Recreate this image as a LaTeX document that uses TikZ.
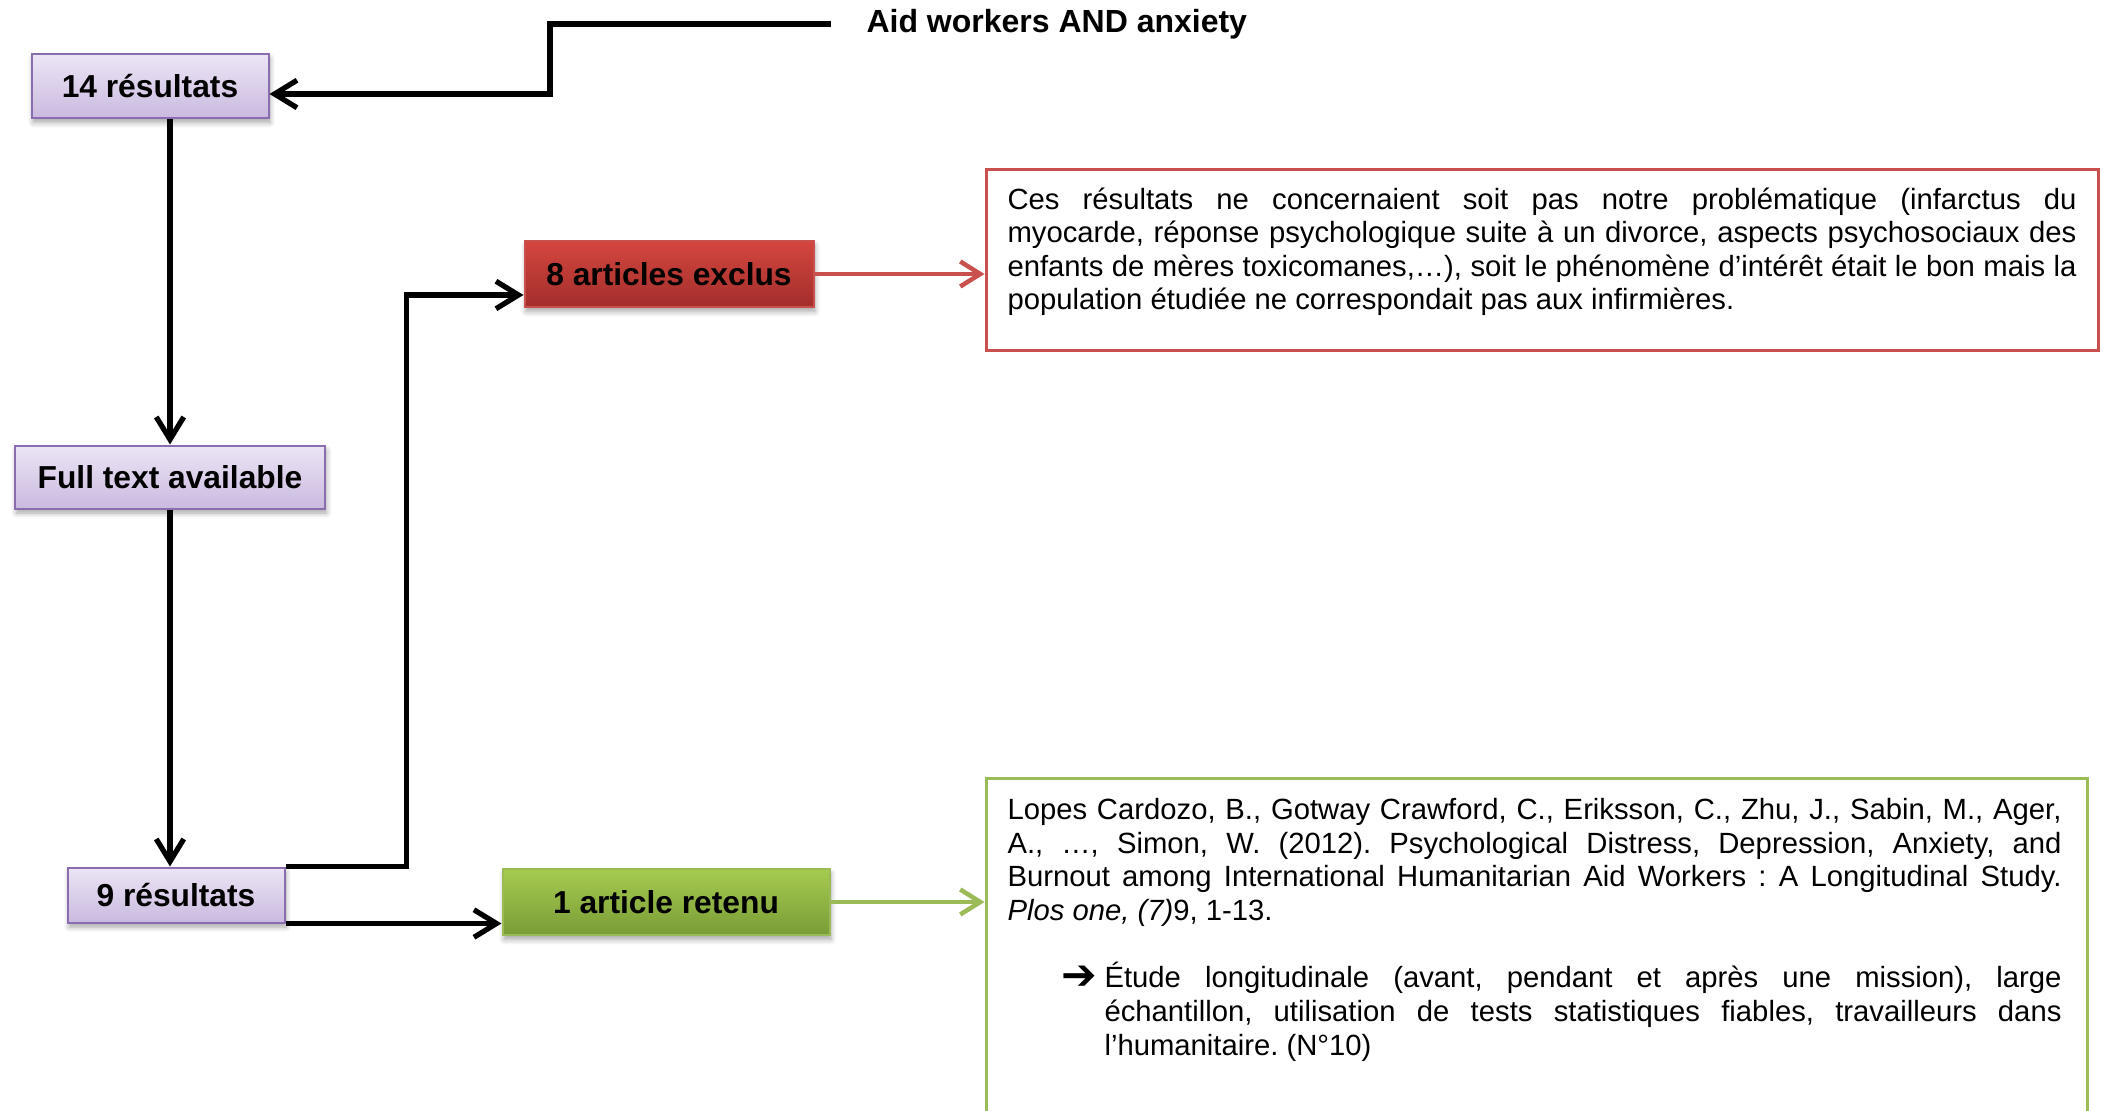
\documentclass[tikz,border=0pt]{standalone}
\usepackage{fontspec}
\setmainfont{Liberation Sans}
\newfontfamily\symfont{DejaVu Sans}
\usetikzlibrary{arrows.meta,calc,shadows.blur}

\definecolor{lavtop}{HTML}{ECE5F5}
\definecolor{lavbot}{HTML}{CABADF}
\definecolor{lavedge}{HTML}{8A6DAE}
\definecolor{redtop}{HTML}{D4463F}
\definecolor{redbot}{HTML}{A22E2B}
\definecolor{redline}{HTML}{C9504C}
\definecolor{greentop}{HTML}{A6CB50}
\definecolor{greenbot}{HTML}{7A9C37}
\definecolor{greenline}{HTML}{9BBB59}

\begin{document}
\begin{tikzpicture}[x=0.4pt,y=-0.4pt,
  lbl/.style={font=\fontsize{12.7}{15}\selectfont\bfseries, inner sep=0pt,
    line width=0.8pt,
    blur shadow={shadow xshift=0.6pt, shadow yshift=-1.8pt,
      shadow blur steps=6, shadow opacity=35}},
  purplebox/.style={lbl, draw=lavedge, top color=lavtop, bottom color=lavbot},
  redlabel/.style={lbl, draw=redline, top color=redtop, bottom color=redbot},
  greenlabel/.style={lbl, draw=greenline, top color=greentop, bottom color=greenbot},
  notebox/.style={draw, line width=1.2pt, inner sep=0pt},
  bodytext/.style={font={\fontsize{11.7}{13.45}\selectfont\frenchspacing}, inner sep=0pt,
    align=justify, anchor=north west},
  flow/.style={line width=2.1pt, -{Straight Barb[length=9pt,width=11pt]}},
  redflow/.style={draw=redline, line width=1.8pt, -{Straight Barb[length=8pt,width=10pt]}},
  greenflow/.style={draw=greenline, line width=1.8pt, -{Straight Barb[length=8pt,width=10pt]}}
]
\useasboundingbox (0,0) rectangle (2103,1111);

% search query
\node[font=\fontsize{12.8}{15}\selectfont\bfseries, inner sep=0pt, anchor=west]
  (query) at (866,24) {Aid workers AND anxiety};

% flow boxes
\node[purplebox, minimum width=237*0.4pt, minimum height=64*0.4pt] (r14) at (150,86) {14 résultats};
\node[purplebox, minimum width=310*0.4pt, minimum height=63*0.4pt] (full) at (170,477) {Full text available};
\node[purplebox, minimum width=217*0.4pt, minimum height=55*0.4pt] (r9) at (176,895) {9 résultats};
\node[redlabel, minimum width=289*0.4pt, minimum height=66*0.4pt] (excl) at (669,274) {8 articles exclus};
\node[greenlabel, minimum width=327*0.4pt, minimum height=66*0.4pt] (ret) at (666,902) {1 article retenu};

% note boxes
\node[notebox, draw=redline, minimum width=1112*0.4pt, minimum height=181*0.4pt] (redbox) at (1542,260.5) {};
\node[notebox, draw=greenline, minimum width=1101*0.4pt, minimum height=360*0.4pt] (greenbox) at (1536.5,958) {};

\node[bodytext, text width=427.6pt] (redtext) at (1007,187)
{Ces résultats ne concernaient soit pas notre problématique (infarctus du\linebreak
myocarde, réponse psychologique suite à un divorce, aspects psychosociaux des\linebreak
enfants de mères toxicomanes,…), soit le phénomène d’intérêt était le bon mais la\linebreak
population étudiée ne correspondait pas aux infirmières.};

\node[bodytext, text width=421.6pt] (greentext) at (1007,798)
{Lopes Cardozo, B., Gotway Crawford, C., Eriksson, C., Zhu, J., Sabin, M., Ager,\linebreak
A., …, Simon, W. (2012). Psychological Distress, Depression, Anxiety, and\linebreak
Burnout among International Humanitarian Aid Workers : A Longitudinal Study.\linebreak
\textit{Plos one, (7)}9, 1-13.\par
\vspace{13.45pt}
\leftskip=38.8pt\relax
\noindent\llap{\raisebox{-0.6pt}{\symfont\fontsize{17}{17}\selectfont\bfseries ➔}\hspace{3pt}}Étude longitudinale (avant, pendant et après une mission), large\linebreak
échantillon, utilisation de tests statistiques fiables, travailleurs dans\linebreak
l’humanitaire. (N°10)\par};

% connectors
\draw[flow] ([xshift=-14pt]query.west) -- ++(-281,0) |- ($(r14.east)+(0,8)$);
\draw[flow] (full.north |- r14.south) -- (full.north);
\draw[flow] (full.south) -- (full.south |- r9.north);
\draw[flow] (r9.north east) -- ++(121,0) |- ($(excl.west)+(0,21)$);
\draw[flow] (r9.south east) -- (r9.south east -| ret.west);
\draw[redflow] (excl.east) -- (excl.east -| redbox.west);
\draw[greenflow] (ret.east) -- (ret.east -| greenbox.west);
\end{tikzpicture}
\end{document}
